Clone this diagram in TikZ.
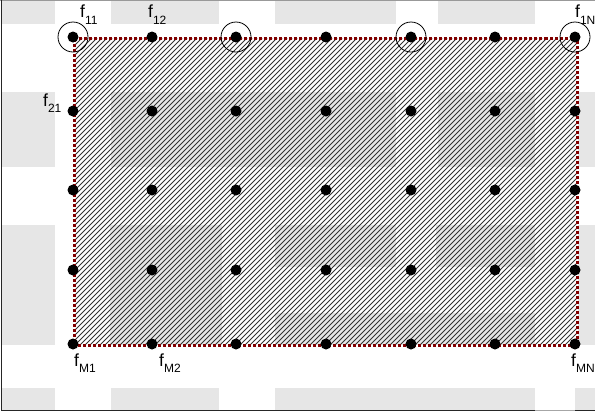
\documentclass[tikz,border=0pt]{standalone}
\usepackage{fontspec}
\setmainfont{Liberation Sans}
\definecolor{blk}{RGB}{230,230,230}
\definecolor{bord}{RGB}{128,0,0}
\newcommand{\flab}[1]{f\raisebox{-6.5bp}{\fontsize{12bp}{12bp}\selectfont #1}}
\begin{document}
\begin{tikzpicture}[x=1bp,y=-1bp,
  bgblock/.style={fill=blk, draw=none},
  dotnode/.style={circle, fill=black, inner sep=0pt, minimum size=11bp},
  ring/.style={circle, draw=black, line width=0.8bp, minimum size=30bp, inner sep=0pt},
  flabel/.style={anchor=base west, inner sep=0pt, font=\fontsize{17.5bp}{20bp}\selectfont},
  hatchline/.style={draw=black!80, line width=0.9bp},
  dotborder/.style={draw=bord, line width=3bp, dash pattern=on 3bp off 2bp}
]
\useasboundingbox (0,0) rectangle (595,414);
% background blocks
\foreach \a/\b/\c/\d in {2/1/55/24, 111/1/219/24, 275/1/396/24, 438/1/535/24,
  2/92/55/167, 111/92/396/167, 438/92/535/167, 578/92/595/167,
  2/225/55/345, 110/225/222/345, 275/225/396/267, 436/225/535/267, 275/313/535/345, 578/225/595/345,
  2/388/55/410, 111/388/219/410, 275/388/535/410, 575/388/595/410}
  \fill[bgblock] (\a,\b) rectangle (\c,\d);
% frame
\draw[line width=0.8bp, black!40] (0,0.5) -- (595,0.5);
\draw[line width=1bp, black!85] (1.5,0) -- (1.5,410.5) -- (535,410.5);
\draw[line width=1bp, black!35] (535,410.5) -- (575,410.5);
\draw[line width=1bp, black!85] (575,410.5) -- (595,410.5);
% hatched region
\begin{scope}
  \clip (74.5,38.5) rectangle (577,345);
  \foreach \s in {-240,-235,...,580}
    \draw[hatchline] (\s,350) -- (\s+320,30);
\end{scope}
\draw[dotborder] (74.5,38.5) rectangle (577,345);
% dots
\foreach \y [count=\r] in {37,111,190,270,344}
  \foreach \x [count=\c] in {73,152,236,326,411,495,575}
    \node[dotnode] (d-\r-\c) at (\x,\y) {};
% rings
\node[ring] (r1) at (d-1-1) {};
\node[ring] (r3) at (d-1-3) {};
\node[ring] (r5) at (d-1-5) {};
\node[ring] (r7) at (d-1-7) {};
% labels
\node[flabel] (l11) at (80,17.5) {\flab{11}};
\node[flabel] (l12) at (148,17.5) {\flab{12}};
\node[flabel] (l1N) at (575,17.5) {\flab{1N}};
\node[flabel] (l21) at (43,106) {\flab{21}};
\node[flabel] (lM1) at (74,366) {\flab{M1}};
\node[flabel] (lM2) at (159,366) {\flab{M2}};
\node[flabel] (lMN) at (571,366) {\flab{MN}};
\end{tikzpicture}
\end{document}
